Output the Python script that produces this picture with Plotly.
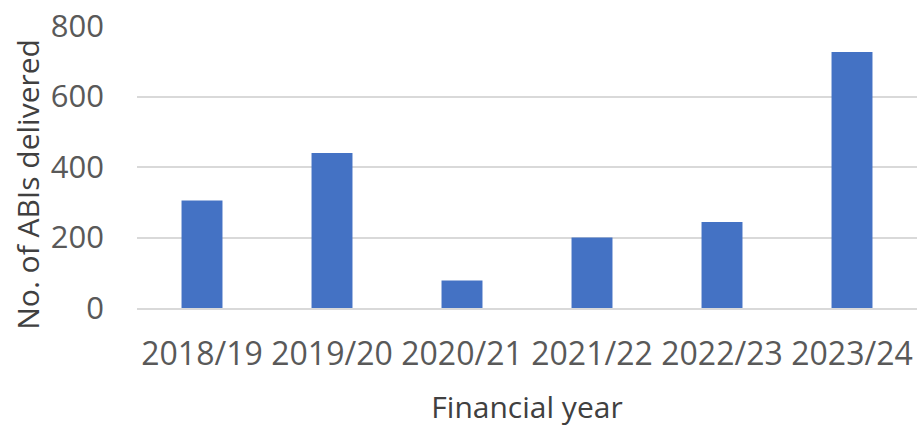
import plotly.graph_objects as go

# ABI deliveries per financial year
years = ["2018/19", "2019/20", "2020/21", "2021/22", "2022/23", "2023/24"]
abis_delivered = [305, 440, 78, 200, 244, 726]

y_ticks = [0, 200, 400, 600, 800]

text_grey = "#595959"
title_grey = "#404040"
grid_grey = "#D9D9D9"
bar_blue = "#4472C4"
font_family = "Open Sans, Lato, sans-serif"

fig = go.Figure(
    go.Bar(
        x=years,
        y=abis_delivered,
        marker=dict(color=bar_blue, line=dict(width=0)),
    )
)

fig.update_layout(
    width=917,
    height=432,
    margin=dict(l=137, r=0, t=26, b=124),
    paper_bgcolor="white",
    plot_bgcolor="white",
    bargap=0.685,
    showlegend=False,
    font=dict(family=font_family, size=30, color=text_grey),
)

fig.update_xaxes(
    showgrid=False,
    showline=True,
    linecolor=grid_grey,
    linewidth=1.5,
    ticks="",
    tickfont=dict(size=32, color=text_grey),
    ticklabelstandoff=17,
    title=dict(text="Financial year", font=dict(size=30, color=title_grey), standoff=24),
)

fig.update_yaxes(
    range=[0, 800],
    tickvals=y_ticks,
    showgrid=True,
    gridcolor=grid_grey,
    gridwidth=1.5,
    zeroline=False,
    showline=False,
    ticks="",
    tickfont=dict(size=31, color=text_grey),
    ticklabelstandoff=32,
)

# Vertical axis title, set slightly below the axis midpoint
fig.add_annotation(
    text="No. of ABIs delivered",
    xref="paper",
    yref="paper",
    x=-0.14,
    y=0.44,
    xanchor="center",
    yanchor="middle",
    textangle=-90,
    showarrow=False,
    font=dict(size=30, color=title_grey),
)

fig.write_html("out.html")
